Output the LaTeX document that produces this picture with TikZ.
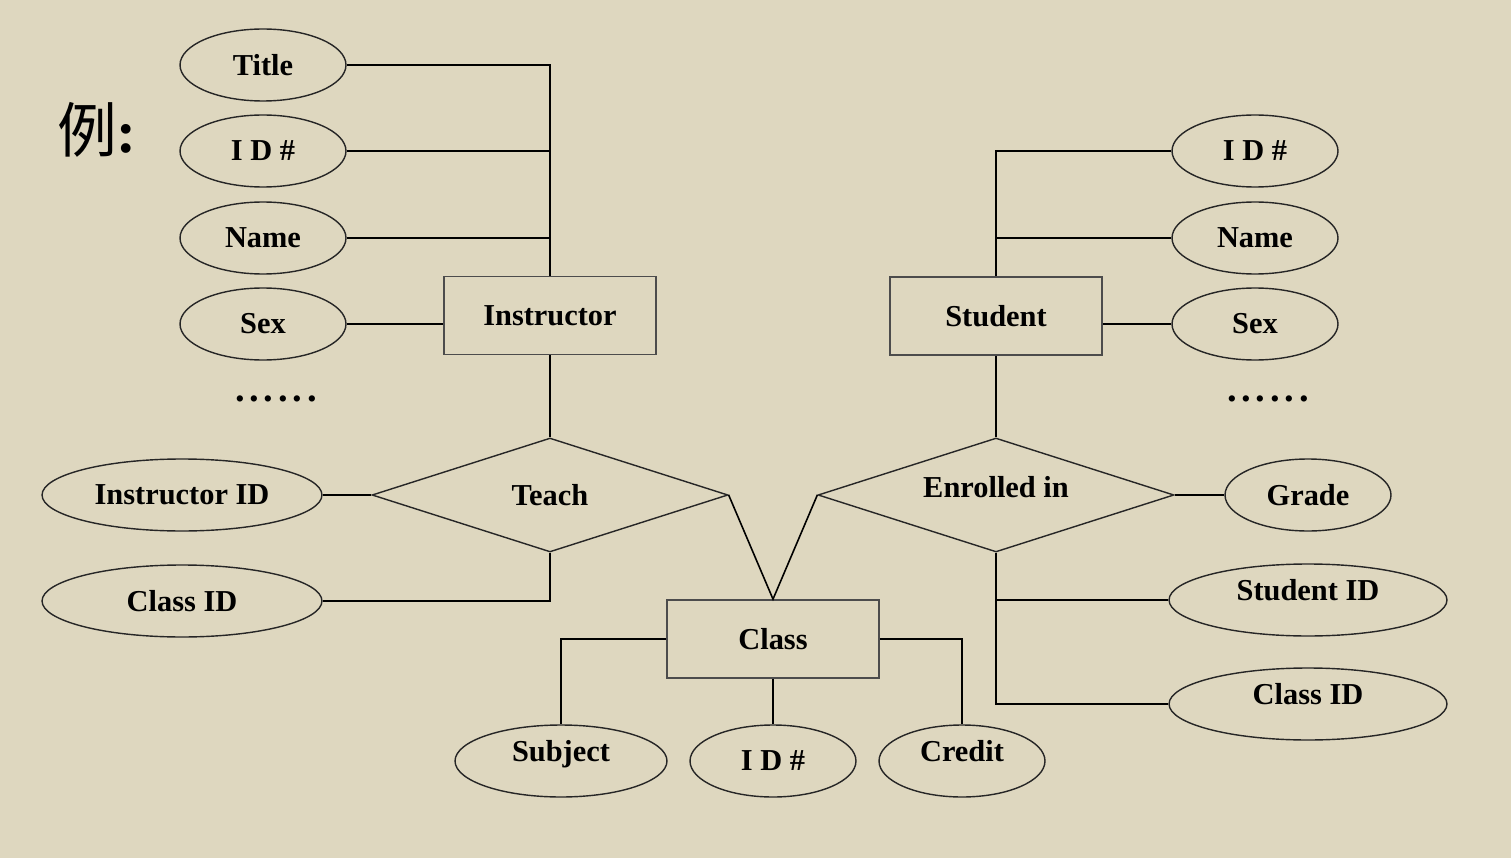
\documentclass[tikz,border=0pt]{standalone}
\usepackage{fontspec}
\setmainfont{Liberation Serif}
\newfontfamily\cjk{Noto Sans CJK SC}
\usetikzlibrary{shapes.geometric}
\definecolor{paper}{RGB}{222,215,191}
\tikzset{
	attr/.style={ellipse, draw=black!85, line width=0.8pt, inner sep=0pt, minimum width=3.32cm, minimum height=1.44cm},
	wideattr/.style={attr, minimum width=5.6cm},
	entity/.style={rectangle, draw=black!70, line width=1pt, inner sep=0pt, minimum width=4.24cm, minimum height=1.56cm},
	relation/.style={diamond, aspect=3.12, draw=black!85, line width=0.8pt, inner sep=0pt, minimum width=7.12cm, minimum height=2.28cm},
	raised/.style={text depth=0.4cm},
	link/.style={line width=1.6pt, black}
}
\newcommand{\dotrow}{{\fontsize{22}{24}\selectfont.\kern2.7pt.\kern2.7pt.\kern2.7pt.\kern2.7pt.\kern2.7pt.}}
\begin{document}
\begin{tikzpicture}[x=0.02cm, y=-0.02cm, font=\bfseries\fontsize{17.3}{20}\selectfont]
		%%%%% START %%%%%
		\fill[paper] (0, 0) rectangle (1511, 858);
		\useasboundingbox (0, 0) rectangle (1511, 858);
		
		\node (li) at (97, 130) {\fontsize{34}{40}\selectfont{\cjk\mdseries 例}:};
		
		% instructor side
		\node[entity] (instr) at (550, 315.5) {Instructor};
		\node[attr] (ititle) at (263, 65) {Title};
		\node[attr] (iid) at (263, 151) {I D \#};
		\node[attr] (iname) at (263, 238) {Name};
		\node[attr] (isex) at (263, 324) {Sex};
		\node (idots) at (276, 399) {\dotrow};
		
		\draw[link] (ititle.east) -| (instr.north);
		\draw[link] (iid.east) -- (iid.east -| instr.north);
		\draw[link] (iname.east) -- (iname.east -| instr.north);
		\draw[link] (isex.east) -- (isex.east -| instr.west);
		
		% teach
		\node[relation] (teach) at (550, 495) {Teach};
		\node[wideattr] (tinstr) at (182, 495) {Instructor ID};
		\node[wideattr] (tclass) at (182, 601) {Class ID};
		
		\draw[link] (instr.south) -- (teach.north);
		\draw[link] (tinstr.east) -- (teach.west);
		\draw[link] (teach.south) |- (tclass.east);
		
		% student side
		\node[entity] (stud) at (996, 316) {Student};
		\node[attr] (sid) at (1255, 151) {I D \#};
		\node[attr] (sname) at (1255, 238) {Name};
		\node[attr] (ssex) at (1255, 324) {Sex};
		\node (sdots) at (1268, 399) {\dotrow};
		
		\draw[link] (stud.north) |- (sid.west);
		\draw[link] (sname.west) -- (sname.west -| stud.north);
		\draw[link] (ssex.west) -- (ssex.west -| stud.east);
		
		% enrolled in
		\node[relation, text depth=0.32cm] (enrol) at (996, 495) {Enrolled in};
		\node[attr] (egrade) at (1308, 495) {Grade};
		\node[wideattr, raised, minimum width=5.56cm] (estud) at (1308, 600) {Student ID};
		\node[wideattr, raised, minimum width=5.56cm] (eclass) at (1308, 704) {Class ID};
		
		\draw[link] (stud.south) -- (enrol.north);
		\draw[link] (enrol.east) -- (egrade.west);
		\draw[link] (enrol.south) |- (estud.west);
		\draw[link] (enrol.south) |- (eclass.west);
		
		% class
		\node[entity] (class) at (773, 639) {Class};
		\node[attr, raised, minimum width=4.24cm] (csubj) at (561, 761) {Subject};
		\node[attr] (cid) at (773, 761) {I D \#};
		\node[attr, raised] (ccred) at (962, 761) {Credit};
		
		\draw[line width=0.9pt] (teach.east) -- (class.north) -- (enrol.west);
		\draw[link] (class.west) -| (csubj.north);
		\draw[link] (class.south) -- (cid.north);
		\draw[link] (class.east) -| (ccred.north);
		
		%%%%% END %%%%%
	\end{tikzpicture}
\end{document}
